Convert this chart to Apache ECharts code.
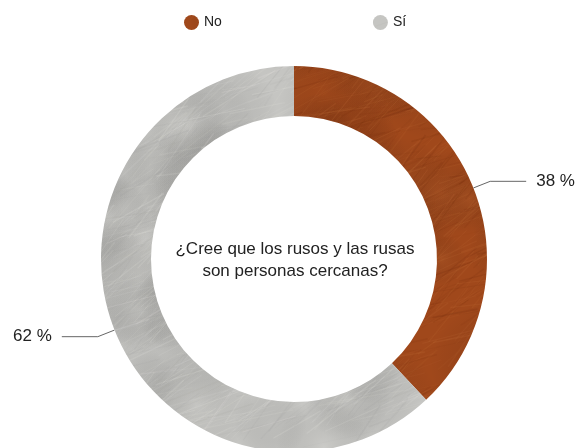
<!DOCTYPE html>
<html>
<head>
<meta charset="utf-8">
<script src="https://cdn.jsdelivr.net/npm/echarts@6/dist/echarts.min.js"></script>
<style>
  html, body { margin: 0; padding: 0; background: #fff; }
  #chart { width: 576px; height: 448px; }
</style>
</head>
<body>
<div id="chart"></div>
<script>
// Survey answers and their shares (percent)
const categories = ['No', 'Sí'];
const shares = [38, 62];
const question = '¿Cree que los rusos y las rusas\nson personas cercanas?';

// Brushed-metal style fill: a base colour with soft blotches and thin streaks.
// The tile is as large as the chart so no seams show.
function metalTexture(base, light, dark, seed) {
  const W = 576, H = 448;
  const c = document.createElement('canvas');
  c.width = W; c.height = H;
  const g = c.getContext('2d');
  g.fillStyle = base;
  g.fillRect(0, 0, W, H);
  let s = seed;
  const next = () => { s = (s * 1103515245 + 12345) % 2147483648; return s / 2147483648; };
  for (let i = 0; i < 60; i++) {
    const x = next() * W, y = next() * H, r = 25 + next() * 50;
    const grd = g.createRadialGradient(x, y, 0, x, y, r);
    grd.addColorStop(0, next() < 0.55 ? light : dark);
    grd.addColorStop(1, 'rgba(0,0,0,0)');
    g.globalAlpha = 0.16;
    g.fillStyle = grd;
    g.fillRect(x - r, y - r, 2 * r, 2 * r);
  }
  for (let i = 0; i < 1800; i++) {
    const x = next() * W, y = next() * H;
    const ang = -1.0 + next() * 0.9;
    const len = 20 + next() * 80;
    g.strokeStyle = next() < 0.6 ? light : dark;
    g.globalAlpha = 0.05 + next() * 0.12;
    g.lineWidth = 0.5 + next() * 1.1;
    g.beginPath();
    g.moveTo(x, y);
    g.lineTo(x + Math.cos(ang) * len, y + Math.sin(ang) * len);
    g.stroke();
  }
  g.globalAlpha = 1;
  return { image: c, repeat: 'no-repeat' };
}

const copper = metalTexture('#a0481b', '#c87840', '#6a260a', 7);
const steel = metalTexture('#c5c5c2', '#efeee9', '#9c9c9a', 13);
const fills = [copper, steel];

const font = 'Liberation Sans, Arial, Helvetica, sans-serif';

const chart = echarts.init(document.getElementById('chart'), null, { renderer: 'canvas' });
chart.setOption({
  animation: false,
  backgroundColor: '#ffffff',
  legend: {
    top: 10,
    left: 179,
    icon: 'circle',
    itemWidth: 15,
    itemHeight: 15,
    itemGap: 151,
    textStyle: { fontFamily: font, fontSize: 14, color: '#222' },
    data: categories
  },
  graphic: [{
    type: 'text',
    x: 295,
    y: 260,
    style: {
      text: question,
      align: 'center',
      verticalAlign: 'middle',
      fontFamily: font,
      fontSize: 17,
      lineHeight: 22,
      fill: '#222'
    }
  }],
  series: [{
    type: 'pie',
    center: [294, 259],
    radius: [143, 193],
    startAngle: 90,
    clockwise: true,
    avoidLabelOverlap: false,
    label: {
      show: true,
      position: 'outside',
      formatter: '{c} %',
      fontFamily: font,
      fontSize: 17,
      color: '#222',
      distanceToLabelLine: 10
    },
    labelLine: {
      show: true,
      length: 18,
      length2: 36,
      lineStyle: { color: '#666', width: 1 }
    },
    emphasis: { disabled: true },
    data: categories.map((name, i) => ({
      name: name,
      value: shares[i],
      itemStyle: { color: fills[i] }
    }))
  }]
});
</script>
</body>
</html>
